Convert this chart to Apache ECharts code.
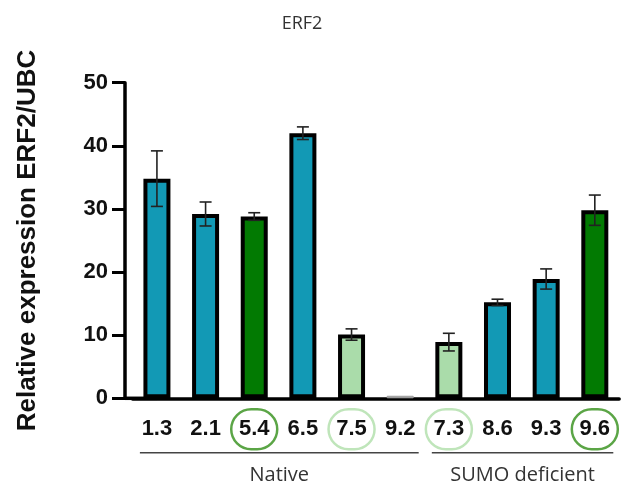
<!DOCTYPE html>
<html>
<head>
<meta charset="utf-8">
<script src="https://cdn.jsdelivr.net/npm/echarts@6/dist/echarts.min.js"></script>
<style>
html,body{margin:0;padding:0;background:#fff;}
#chart{width:622px;height:487px;}
</style>
</head>
<body>
<div id="chart"></div>
<script>
// ---- data ----
const categories = ['1.3', '2.1', '5.4', '6.5', '7.5', '9.2', '7.3', '8.6', '9.3', '9.6'];
const means      = [34.8, 29.2, 28.8, 42.0, 10.1, 0.4, 8.9, 15.2, 18.9, 29.8];
const errors     = [4.4, 1.9, 0.6, 1.0, 0.9, 0, 1.4, 0.5, 1.6, 2.4];
const barKinds   = ['teal', 'teal', 'dark', 'teal', 'light', 'teal', 'light', 'teal', 'teal', 'dark'];
const circled    = ['', '', 'dark', '', 'light', '', 'light', '', '', 'dark'];
const groupNames = ['Native', 'SUMO deficient'];
const groupFrom  = [0, 6];
const groupTo    = [5, 9];
const yMin = 0, yMax = 50, yStep = 10;
const chartTitle = 'ERF2';
const yTitle = 'Relative expression ERF2/UBC';

// ---- styles ----
const fillColors = { teal: '#1299b5', dark: '#027a02', light: '#aadcaa' };
const circleColors = { dark: '#5ba546', light: '#bfe5ba' };

const barData = means.map((v, i) => {
  const item = { value: v, itemStyle: { color: fillColors[barKinds[i]] } };
  if (v < 1) { item.itemStyle = { color: '#bbbbbb', borderColor: '#999999', borderWidth: 1 }; }
  return item;
});

const labelBase = { fontSize: 22, fontWeight: 'bold', color: '#111', fontFamily: 'Liberation Sans, Arial, sans-serif',
  width: 46, height: 40, lineHeight: 40, align: 'center' };

const chart = echarts.init(document.getElementById('chart'), null, { renderer: 'canvas' });
chart.setOption({
  animation: false,
  backgroundColor: '#fff',
  title: {
    text: chartTitle, left: 297, top: 10, textAlign: 'center',
    textStyle: { fontFamily: 'Open Sans', fontSize: 18, fontWeight: 'normal', color: '#333' }
  },
  grid: { left: 132.6, right: 1.6, top: 82.7, bottom: 88.7 },
  xAxis: {
    type: 'category',
    data: categories,
    boundaryGap: true,
    axisLine: { lineStyle: { color: '#000', width: 3.5 } },
    axisTick: { alignWithLabel: true, interval: 0, length: 14, lineStyle: { color: '#000', width: 3 } },
    axisLabel: {
      interval: 0, margin: 11,
      formatter: (v, i) => circled[i] ? '{' + circled[i] + '|' + v + '}' : '{p|' + v + '}',
      rich: {
        p: Object.assign({}, labelBase),
        dark: Object.assign({}, labelBase, { borderColor: circleColors.dark, borderWidth: 2.5, borderRadius: 22 }),
        light: Object.assign({}, labelBase, { borderColor: circleColors.light, borderWidth: 2.5, borderRadius: 22 })
      }
    }
  },
  yAxis: {
    type: 'value', min: yMin, max: yMax, interval: yStep,
    offset: 7.6,
    name: yTitle, nameLocation: 'middle', nameRotate: 90, nameGap: 84,
    nameTextStyle: { fontSize: 26, fontWeight: 'bold', color: '#111', fontFamily: 'Liberation Sans, Arial, sans-serif' },
    splitLine: { show: false },
    axisLine: { show: true, lineStyle: { color: '#000', width: 3.5 } },
    axisTick: { show: true, length: 13, lineStyle: { color: '#000', width: 3 } },
    axisLabel: { margin: 17, fontSize: 22, fontWeight: 'bold', color: '#111', fontFamily: 'Liberation Sans, Arial, sans-serif' }
  },
  series: [
    {
      type: 'bar', data: barData, barWidth: 27,
      itemStyle: { borderColor: '#000', borderWidth: 4 },
      z: 2
    },
    {
      type: 'custom',
      z: 3,
      data: means.map((m, i) => [i, m, errors[i]]),
      renderItem: (params, api) => {
        const i = api.value(0), m = api.value(1), e = api.value(2);
        if (!e) return null;
        const top = api.coord([i, m + e]);
        const bot = api.coord([i, m - e]);
        const hw = 6;
        const st = { stroke: '#222', lineWidth: 1.6 };
        return {
          type: 'group',
          children: [
            { type: 'line', shape: { x1: top[0], y1: top[1], x2: bot[0], y2: bot[1] }, style: st },
            { type: 'line', shape: { x1: top[0] - hw, y1: top[1], x2: top[0] + hw, y2: top[1] }, style: st },
            { type: 'line', shape: { x1: bot[0] - hw, y1: bot[1], x2: bot[0] + hw, y2: bot[1] }, style: st }
          ]
        };
      }
    }
  ]
});

// ---- group annotations and axis corner ----
const px = (i, v) => chart.convertToPixel({ xAxisIndex: 0, yAxisIndex: 0 }, [i, v]);
const base0 = px(0, 0);
const yAxisX = 132.6 - 7.6;
const gfx = [
  { type: 'line', shape: { x1: yAxisX, y1: base0[1], x2: base0[0], y2: base0[1] }, style: { stroke: '#000', lineWidth: 3.5 }, z: 10 }
];
const catW = px(1, 0)[0] - px(0, 0)[0];
const lineY = 452.7;
groupNames.forEach((name, g) => {
  const a = px(groupFrom[g], 0)[0] - catW * 0.35;
  const b = px(groupTo[g], 0)[0] + catW * 0.38;
  gfx.push({ type: 'line', shape: { x1: a, y1: lineY, x2: b, y2: lineY }, style: { stroke: '#444', lineWidth: 1.5 } });
  gfx.push({ type: 'text', x: (a + b) / 2, y: 475,
    style: { text: name, textAlign: 'center', textVerticalAlign: 'middle', align: 'center', verticalAlign: 'middle',
      fontSize: 20, fontFamily: 'Open Sans', fill: '#333' } });
});
chart.setOption({ graphic: gfx });
</script>
</body>
</html>
